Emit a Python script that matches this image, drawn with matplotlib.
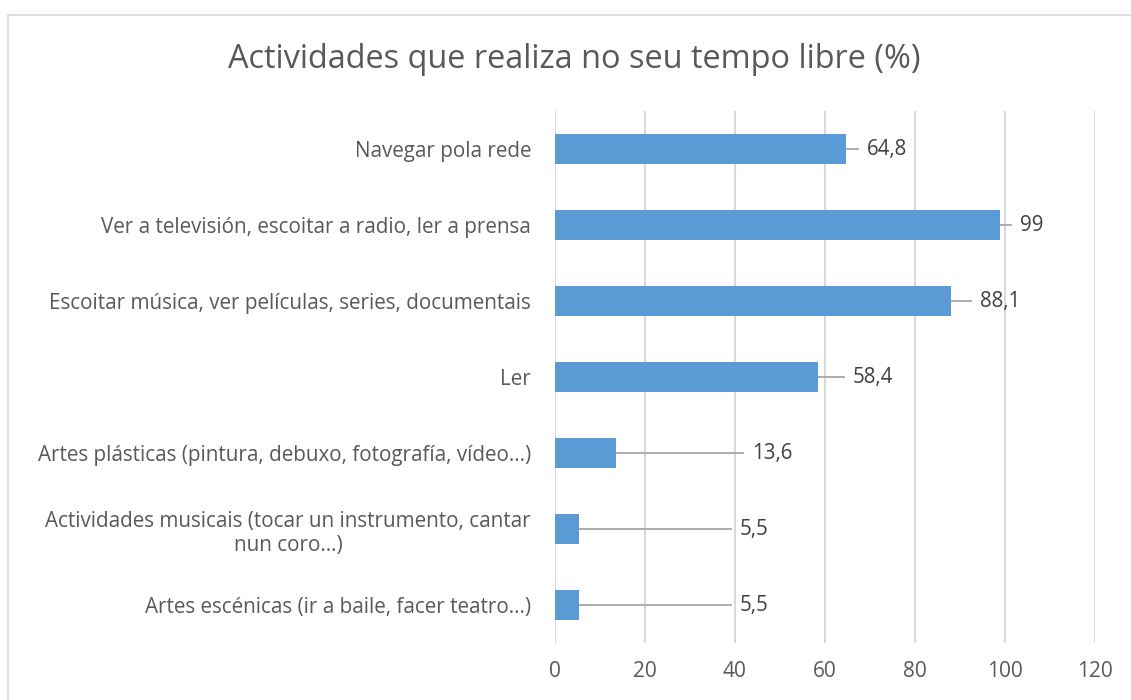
import matplotlib
matplotlib.use("Agg")
import matplotlib.pyplot as plt
from matplotlib.patches import Rectangle

plt.rcParams['font.family'] = ['Open Sans', 'DejaVu Sans']

categories = [
    "Navegar pola rede",
    "Ver a televisión, escoitar a radio, ler a prensa",
    "Escoitar música, ver películas, series, documentais",
    "Ler",
    "Artes plásticas (pintura, debuxo, fotografía, vídeo...)",
    "Actividades musicais (tocar un instrumento, cantar\nnun coro...)",
    "Artes escénicas (ir a baile, facer teatro...)",
]
values = [64.8, 99, 88.1, 58.4, 13.6, 5.5, 5.5]
value_labels = ["64,8", "99", "88,1", "58,4", "13,6", "5,5", "5,5"]
# where each data label was dragged to (x start of text, in axis units)
label_pos = [69.4, 103.4, 94.5, 66.3, 43.8, 41.2, 41.2]

title = "Actividades que realiza no seu tempo libre (%)"
xticks = [0, 20, 40, 60, 80, 100, 120]

text_col = '#595959'
bar_col = '#5B9BD5'
grid_col = '#D9D9D9'

fig = plt.figure(figsize=(11.31, 7), dpi=100)
ax = fig.add_axes([554.7 / 1131, 1 - 643 / 700, 540 / 1131, 532 / 700])

ypos = list(range(len(categories)))
ax.barh(ypos, values, height=0.39, color=bar_col, zorder=3)

for y, v, lab, lx in zip(ypos, values, value_labels, label_pos):
    ax.plot([v, lx - 2.0], [y, y], color='#A6A6A6', lw=1.3, zorder=2)
    ax.text(lx, y, lab, ha='left', va='center', fontsize=14.8, color='#404040')

ax.set_xlim(0, 120)
ax.set_ylim(len(categories) - 0.5, -0.5)
ax.set_xticks(xticks)
ax.set_xticklabels([str(t) for t in xticks])
ax.set_yticks(ypos)
ax.set_yticklabels(categories, multialignment='center')
ax.tick_params(axis='y', length=0, pad=17, labelsize=14.9, labelcolor=text_col)
ax.tick_params(axis='x', length=0, pad=13, labelsize=15, labelcolor=text_col)
ax.grid(axis='x', color=grid_col, lw=1.5, zorder=0)
for s in ax.spines.values():
    s.set_visible(False)

fig.text(574 / 1131, 1 - 60 / 700, title, ha='center', va='center',
         fontsize=23.4, color=text_col)

fig.patches.append(Rectangle((8 / 1131, -0.1), 1.2, (700 - 15) / 700 + 0.1,
                             transform=fig.transFigure, fill=False,
                             edgecolor=grid_col, lw=1.2))

fig.savefig("out.png", dpi=100)
